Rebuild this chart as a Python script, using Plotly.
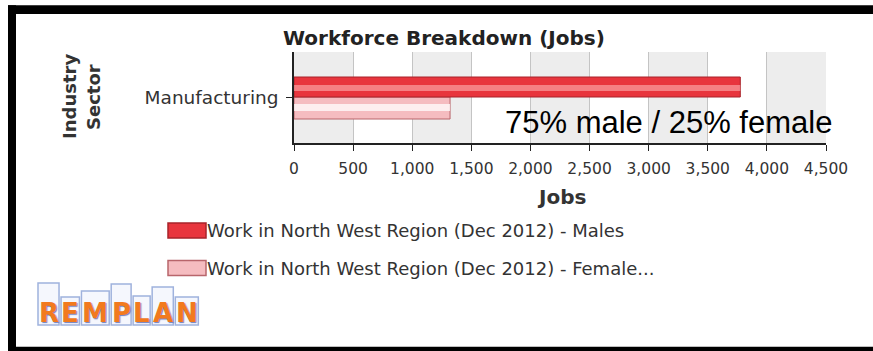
import plotly.graph_objects as go

# --- data -------------------------------------------------------------
categories = ["Manufacturing"]
male_jobs = [3775]
female_jobs = [1320]
series_names = [
    "Work in North West Region (Dec 2012) - Males",
    "Work in North West Region (Dec 2012) - Female...",
]
x_ticks = [0, 500, 1000, 1500, 2000, 2500, 3000, 3500, 4000, 4500]
x_tick_labels = ["0", "500", "1,000", "1,500", "2,000", "2,500",
                 "3,000", "3,500", "4,000", "4,500"]
chart_title = "Workforce Breakdown (Jobs)"
x_title = "Jobs"
y_title_lines = ["Industry", "Sector"]
share_note = "75% male / 25% female"
logo_letters = list("REMPLAN")

# --- geometry (pixels of the 873x351 page) ----------------------------
W, H = 873, 351
PL, PR, PT, PB = 294, 826, 52, 143


def fx(px):
    return (px - PL) / (PR - PL)


def fy(py):
    return (PB - py) / (PB - PT)


def cy(py):
    # category-axis units for a pixel row (axis range -0.5..0.5)
    return 0.5 - (py - PT) / (PB - PT)


RED = "#e8353d"
RED_EDGE = "#a8232a"
PINK = "#f5bcc0"
PINK_EDGE = "#b8656b"

fig = go.Figure()

# female bar (lower) and male bar (upper), each with a soft highlight band
fig.add_trace(go.Bar(
    y=categories, x=female_jobs, orientation="h", name=series_names[1],
    marker=dict(color=PINK, line=dict(color=PINK_EDGE, width=1)),
    offset=cy(119), width=cy(97) - cy(119), showlegend=False,
))
fig.add_trace(go.Bar(
    y=categories, x=female_jobs, orientation="h",
    marker=dict(color="rgba(255,255,255,0.75)", line=dict(width=0)),
    offset=cy(111), width=cy(104) - cy(111), showlegend=False,
    hoverinfo="skip",
))
fig.add_trace(go.Bar(
    y=categories, x=male_jobs, orientation="h", name=series_names[0],
    marker=dict(color=RED, line=dict(color=RED_EDGE, width=1)),
    offset=cy(97), width=cy(77) - cy(97), showlegend=False,
))
fig.add_trace(go.Bar(
    y=categories, x=male_jobs, orientation="h",
    marker=dict(color="rgba(255,190,190,0.55)", line=dict(width=0)),
    offset=cy(91), width=cy(85) - cy(91), showlegend=False,
    hoverinfo="skip",
))

shapes = []
# interlaced vertical strips
for a, b in zip(x_ticks[0::2], x_ticks[1::2]):
    shapes.append(dict(type="rect", xref="x", yref="paper", x0=a, x1=b,
                       y0=0, y1=1, fillcolor="#ededed", line_width=0,
                       layer="below"))

# outer black frame (left, top, bottom)
shapes += [
    dict(type="rect", xref="paper", yref="paper", x0=fx(8), x1=fx(W + 5),
         y0=fy(14), y1=fy(5.3), fillcolor="black", line_width=0),
    dict(type="rect", xref="paper", yref="paper", x0=fx(8), x1=fx(16),
         y0=fy(H + 5), y1=fy(5.3), fillcolor="black", line_width=0),
    dict(type="rect", xref="paper", yref="paper", x0=fx(8), x1=fx(W + 5),
         y0=fy(H + 5), y1=fy(346.7), fillcolor="black", line_width=0),
]

# legend swatches
for i, (fill, edge) in enumerate([(RED, RED_EDGE), (PINK, PINK_EDGE)]):
    top = 223 + i * 37.5
    shapes.append(dict(type="rect", xref="paper", yref="paper",
                       x0=fx(168), x1=fx(206), y0=fy(top + 15), y1=fy(top),
                       fillcolor=fill, line=dict(color=edge, width=1.5)))

# logo: outlined columns with a bold orange letter on each
letter_w = {"R": 0.770, "E": 0.683, "M": 0.995, "P": 0.733,
            "L": 0.637, "A": 0.774, "N": 0.837}
logo_size = 26
logo_spread = 1.15
bar_tops = [283, 297, 291, 284, 296, 287, 297]
x_cursor = 37
for ch, t in zip(logo_letters, bar_tops):
    w = letter_w[ch] * logo_size * logo_spread
    shapes.append(dict(type="rect", xref="paper", yref="paper",
                       x0=fx(x_cursor + 1), x1=fx(x_cursor + w - 1),
                       y0=fy(325), y1=fy(t), fillcolor="#f5f7fd",
                       line=dict(color="#9fb2dd", width=1.5)))
    x_cursor += w

annotations = [
    dict(text=f"<b>{chart_title}</b>", x=fx(444), y=fy(38), xref="paper",
         yref="paper", showarrow=False, xanchor="center", yanchor="middle",
         font=dict(family="DejaVu Sans", size=20, color="#222")),
    dict(text=f"<b>{x_title}</b>", x=fx(561), y=fy(197), xref="paper",
         yref="paper", showarrow=False, xanchor="center", yanchor="middle",
         font=dict(family="DejaVu Sans", size=20, color="#333")),
    dict(text=share_note, x=fx(668), y=fy(122), xref="paper", yref="paper",
         showarrow=False, xanchor="center", yanchor="middle",
         font=dict(family="Liberation Sans", size=31, color="black")),
]
for line, px in zip(y_title_lines, [69, 93]):
    annotations.append(dict(
        text=f"<b>{line}</b>", x=fx(px), y=fy(97), xref="paper",
        yref="paper", showarrow=False, textangle=-90, xanchor="center",
        yanchor="middle",
        font=dict(family="DejaVu Sans", size=18, color="#333")))
for i, name in enumerate(series_names):
    annotations.append(dict(
        text=name, x=fx(205), y=fy(230.5 + i * 37.5), xref="paper",
        yref="paper", showarrow=False, xanchor="left", yanchor="middle",
        font=dict(family="DejaVu Sans", size=18, color="#333")))
x_cursor = 37
for ch in logo_letters:
    w = letter_w[ch] * logo_size * logo_spread
    annotations.append(dict(
        text=f"<b>{ch}</b>", x=fx(x_cursor + w / 2), y=fy(313),
        xref="paper", yref="paper", showarrow=False, xanchor="center",
        yanchor="middle",
        font=dict(family="DejaVu Sans", size=logo_size, color="#f27a1e",
                  shadow="1px 1px 1px #6f7fbf")))
    x_cursor += w

fig.update_layout(
    width=W, height=H,
    margin=dict(l=PL, r=W - PR, t=PT, b=H - PB, pad=0),
    paper_bgcolor="white", plot_bgcolor="white",
    barmode="overlay",
    showlegend=False,
    shapes=shapes,
    annotations=annotations,
    xaxis=dict(
        range=[x_ticks[0], x_ticks[-1]], tickmode="array", tickvals=x_ticks,
        ticktext=x_tick_labels, showgrid=True, gridcolor="#c4c4c4",
        gridwidth=1, showline=True, linecolor="#222", linewidth=1.5,
        ticks="outside", ticklen=6, tickcolor="#222", ticklabelstandoff=5,
        tickfont=dict(family="DejaVu Sans", size=15.5, color="#333"),
        zeroline=False, fixedrange=True,
    ),
    yaxis=dict(
        range=[-0.5, 0.5], showgrid=False, showline=True, linecolor="#222",
        linewidth=1.5, ticks="outside", ticklen=6, tickcolor="#222",
        tickfont=dict(family="DejaVu Sans", size=18.5, color="#333"),
        ticklabelstandoff=4, zeroline=False, fixedrange=True,
    ),
)

fig.write_html("out.html", config={"displayModeBar": False})
